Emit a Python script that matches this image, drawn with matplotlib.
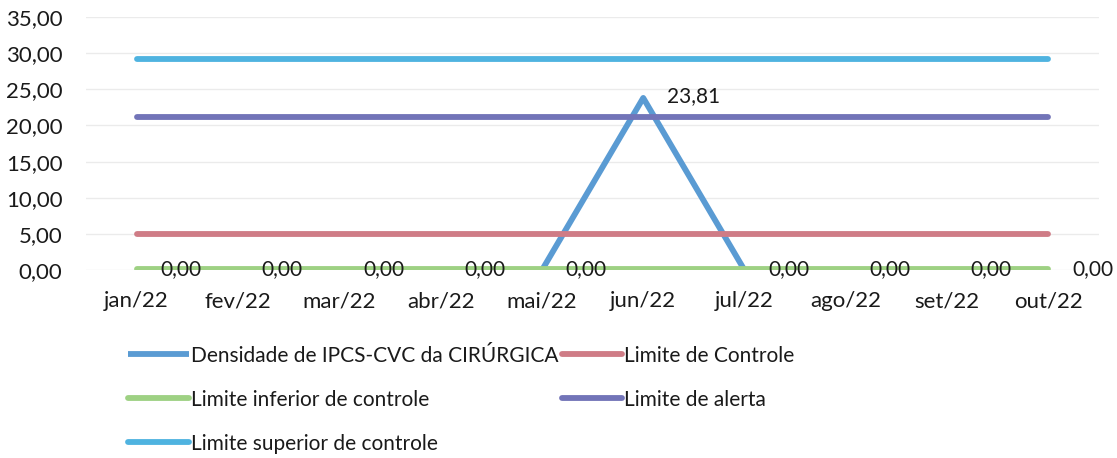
import matplotlib
matplotlib.use('Agg')
import matplotlib.pyplot as plt
from matplotlib.ticker import FuncFormatter

plt.rcParams['font.family'] = ['Lato', 'DejaVu Sans']

meses = ['jan/22', 'fev/22', 'mar/22', 'abr/22', 'mai/22',
         'jun/22', 'jul/22', 'ago/22', 'set/22', 'out/22']
densidade = [0, 0, 0, 0, 0, 23.81, 0, 0, 0, 0]
lim_controle = [5.05] * 10
lim_inferior = [0.15] * 10
lim_alerta = [21.2] * 10
lim_superior = [29.2] * 10


def virgula(v, pos=None):
    return f'{v:.2f}'.replace('.', ',')


fig = plt.figure(figsize=(11.17, 4.58), dpi=100)
ax = fig.add_axes([0.077, 0.41, 0.907, 0.553])

x = range(len(meses))
lw = 4.2
l1, = ax.plot(x, densidade, color='#5a9bd3', lw=lw, solid_capstyle='butt',
              label='Densidade de IPCS-CVC da CIRÚRGICA')
l2, = ax.plot(x, lim_controle, color='#cf7c86', lw=lw, solid_capstyle='round',
              label='Limite de Controle')
l3, = ax.plot(x, lim_inferior, color='#9ed183', lw=lw, solid_capstyle='round',
              label='Limite inferior de controle')
l4, = ax.plot(x, lim_alerta, color='#7274b8', lw=lw, solid_capstyle='round',
              label='Limite de alerta')
l5, = ax.plot(x, lim_superior, color='#4fb3e0', lw=lw, solid_capstyle='round',
              label='Limite superior de controle')

for i, v in enumerate(densidade):
    ax.annotate(virgula(v), (i, v), xytext=(17, 1), textcoords='offset points',
                ha='left', va='center', fontsize=15, color='#1a1a1a')

ax.set_ylim(0, 35)
ax.set_xlim(-0.5, len(meses) - 0.5)
ax.set_yticks(range(0, 36, 5))
ax.yaxis.set_major_formatter(FuncFormatter(virgula))
ax.set_xticks(list(x))
ax.set_xticklabels(meses)
ax.tick_params(axis='both', length=0, labelsize=16, colors='#1a1a1a')
ax.tick_params(axis='x', pad=15)
ax.tick_params(axis='y', pad=17)
ax.grid(axis='y', color='#ebebeb', lw=1)
ax.set_axisbelow(True)
for s in ax.spines.values():
    s.set_visible(False)

fig.legend(handles=[l1, l3, l5, l2, l4], ncol=2, loc='upper left',
           bbox_to_anchor=(0.115, 0.245), frameon=False, fontsize=15,
           handlelength=2.9, handletextpad=0.1, columnspacing=0.15,
           labelspacing=1.15, borderpad=0, borderaxespad=0,
           labelcolor='#1a1a1a')

fig.savefig('out.png', dpi=100)
